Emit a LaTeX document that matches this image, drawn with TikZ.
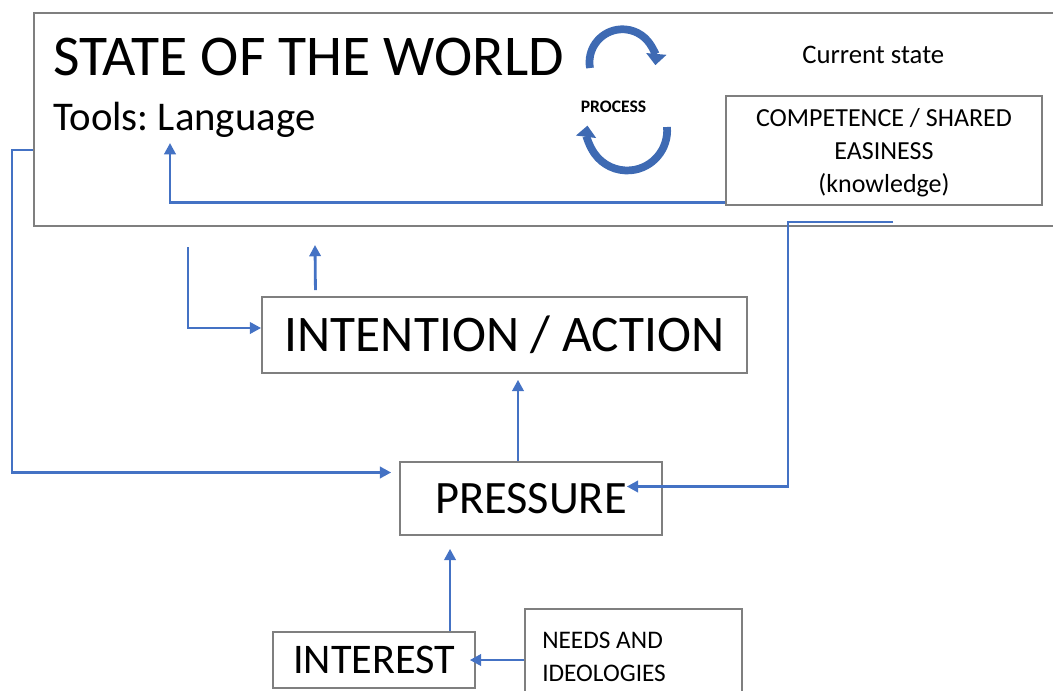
\documentclass[tikz,border=0pt]{standalone}
\usepackage{fontspec}
\setmainfont{Carlito}
\frenchspacing
\usetikzlibrary{arrows.meta}
\definecolor{boxgray}{HTML}{7F7F7F}
\definecolor{flowblue}{HTML}{4472C4}
\definecolor{procblue}{HTML}{3E6AB3}
\tikzset{
	frame/.style={draw=boxgray, line width=1.1pt, fill=none, inner sep=0pt,
				  text centered, text=black},
	flow/.style={draw=flowblue, line width=2pt,
				 -{Triangle[length=8pt, width=8pt]}},
	proc/.style={draw=procblue, line width=5.5pt,
				 -{Triangle[length=8pt, width=14pt]}}
}
\begin{document}
\begin{tikzpicture}[x=0.025cm, y=0.025cm]
	\useasboundingbox (0,0) rectangle (1053,-691);
	\clip (0,0) rectangle (1053,-691);
	% boxes
	\node[frame, anchor=north west, minimum width=26.75cm, minimum height=5.325cm] (world) at (33,-12) {};
	\node[frame, minimum width=7.9cm, minimum height=2.725cm, align=center,
		  font=\fontsize{18.5}{23.5}\selectfont] (comp) at (884,-150.5)
		  {\strut COMPETENCE / SHARED\\EASINESS\\(knowledge)};
	\node[frame, minimum width=12.125cm, minimum height=1.9cm,
		  font=\fontsize{36.5}{40}\selectfont] (intent) at (504.5,-335) {INTENTION / ACTION};
	\node[frame, minimum width=6.55cm, minimum height=1.825cm,
		  font=\fontsize{33}{38}\selectfont] (press) at (531,-498.5) {PRESSURE};
	\node[frame, minimum width=5.05cm, minimum height=1.4cm,
		  font=\fontsize{30}{34}\selectfont] (interest) at (374,-660) {INTEREST};
	\node[frame, anchor=north west, minimum width=5.425cm, minimum height=2.5cm] (needs) at (524,-608) {};
	% texts
	\node[anchor=base west, inner sep=0pt, font=\fontsize{41}{46}\selectfont] (title) at (53,-75) {STATE OF THE WORLD};
	\node[anchor=base west, inner sep=0pt, font=\fontsize{29}{34}\selectfont] (tools) at (53,-130) {Tools: Language};
	\node[anchor=base west, inner sep=0pt, font=\fontsize{19}{22}\selectfont] (current) at (802,-63) {Current state};
	\node[anchor=base, inner sep=0pt, font=\bfseries\fontsize{12.5}{14}\selectfont] (process) at (613.5,-112) {PROCESS};
	\node[anchor=north west, inner sep=0pt, align=left, font=\fontsize{18}{23.5}\selectfont] (needstext) at (542,-632) {NEEDS AND\\IDEOLOGIES};
	% process circle
	\draw[proc] (590,-68) arc[start angle=190, end angle=-5, radius=33];
	\draw[proc] (667,-127) arc[start angle=5, end angle=-187, radius=40];
	% loose ends
	\coordinate (toolsin) at (170,-143);
	\coordinate (compout) at (893,-222);
	\coordinate (worldout) at (188,-247);
	\coordinate (worldin) at (315,-245);
	% connectors
	\draw[flow] ([yshift=0.075cm]comp.south west) -| (toolsin);
	\draw[flow] (compout) -- (788,-222) |- ([xshift=-0.9cm, yshift=0.3cm]press.east);
	\draw[flow] ([yshift=-3.45cm]world.north west) -- ++(-21,0) |- ([xshift=-0.2cm, yshift=0.65cm]press.west);
	\draw[flow] (worldout) |- ([yshift=0.175cm]intent.west);
	\draw[flow] ([xshift=-4.725cm, yshift=0.15cm]intent.north) -- (worldin);
	\draw[flow] ([xshift=-0.325cm]press.north) -- ([xshift=-0.325cm, yshift=-0.15cm]press.north |- intent.south);
	\draw[flow] ([xshift=1.9cm]interest.north) -- ([xshift=1.9cm, yshift=-0.325cm]interest.north |- press.south);
	\draw[flow] (needs.west |- interest.east) -- ([xshift=-0.15cm]interest.east);
\end{tikzpicture}
\end{document}
